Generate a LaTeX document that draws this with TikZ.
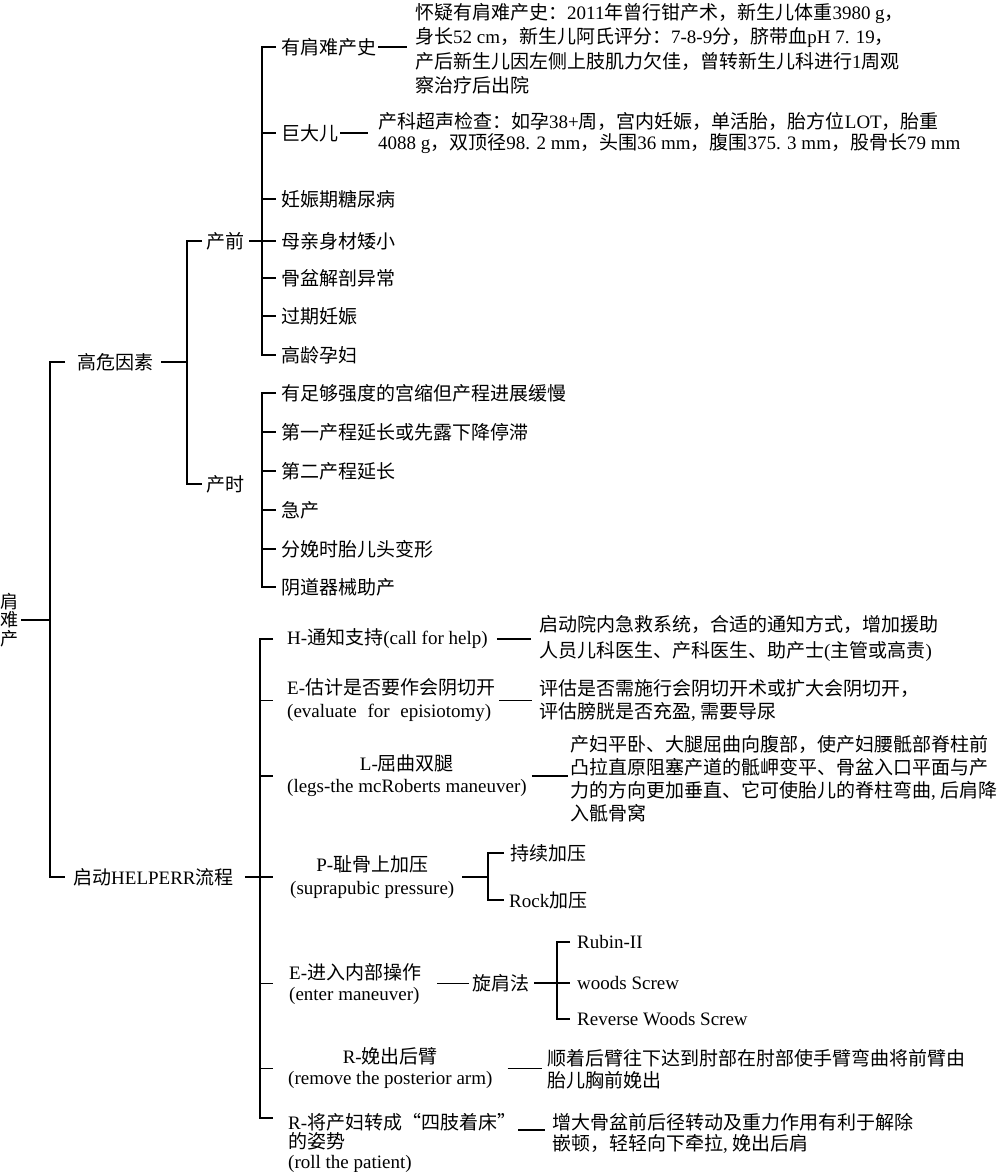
\documentclass[tikz,border=0pt]{standalone}
\usepackage{fontspec}
\setmainfont{Noto Sans CJK SC}
\newfontfamily\lat{Liberation Serif}
\newcommand\la[1]{{\lat #1}}
\begin{document}
\begin{tikzpicture}[x=1pt,y=-1pt,
  every node/.style={inner sep=0pt, anchor=west, font=\fontsize{19}{24}\selectfont},
  ln/.style={line width=1.9pt},
  fs/.style={font=\fontsize{19}{#1}\selectfont}
]
\useasboundingbox (0,0) rectangle (1000,1172);
% bracket x positions
\coordinate (vm) at (50,0);  \coordinate (tm) at (65,0);
\coordinate (v0) at (187,0); \coordinate (t0) at (202,0);
\coordinate (v1) at (262,0); \coordinate (t1) at (276,0);
\coordinate (vh) at (260,0); \coordinate (th) at (273,0);
\coordinate (vp) at (488,0); \coordinate (tp) at (504,0);
\coordinate (vx) at (557,0); \coordinate (tx) at (570,0);

% root
\node[anchor=center, align=center, font=\fontsize{18}{18.5}\selectfont] (root) at (9,620) {肩\\难\\产};
\node (gw) at (77,362) {高危因素};
\node (hp) at (73,877) {启动\la{HELPERR}流程};
\node (cq) at (206,241) {产前};
\node (cs) at (206,484) {产时};

% 产前 items
\node (a1) at (281,47) {有肩难产史};
\node (a2) at (281,133) {巨大儿};
\node (a3) at (281,199) {妊娠期糖尿病};
\node (a4) at (281,241) {母亲身材矮小};
\node (a5) at (281,278) {骨盆解剖异常};
\node (a6) at (281,316) {过期妊娠};
\node (a7) at (281,355) {高龄孕妇};
\node (a1d) [align=left, fs=24.5] at (415,48.5) {怀疑有肩难产史：\la{2011}年曾行钳产术，新生儿体重\la{3980 g}，\\身长\la{52 cm}，新生儿阿氏评分：\la{7-8-9}分，脐带血\la{pH 7. 19}，\\产后新生儿因左侧上肢肌力欠佳，曾转新生儿科进行\la{1}周观\\察治疗后出院};
\node (a2d) [align=left, fs=21] at (378,133) {产科超声检查：如孕\la{38+}周，宫内妊娠，单活胎，胎方位\la{LOT}，胎重\\\la{4088 g}，双顶径\la{98. 2 mm}，头围\la{36 mm}，腹围\la{375. 3 mm}，股骨长\la{79 mm}};

% 产时 items
\node (b1) at (281,393) {有足够强度的宫缩但产程进展缓慢};
\node (b2) at (281,432) {第一产程延长或先露下降停滞};
\node (b3) at (281,471) {第二产程延长};
\node (b4) at (281,510) {急产};
\node (b5) at (281,549) {分娩时胎儿头变形};
\node (b6) at (281,587) {阴道器械助产};

% HELPERR items
\node (h1) at (287,639) {\la{H-}通知支持\la{(call for help)}};
\node (h1d) [align=left, fs=26] at (539,638.5) {启动院内急救系统，合适的通知方式，增加援助\\人员儿科医生、产科医生、助产士\la{(}主管或高责\la{)}};
\node (e1) [align=left, fs=23] at (287,700.5) {\la{E-}估计是否要作会阴切开\\{\lat (evaluate\hspace{6pt} for\hspace{6pt} episiotomy)}};
\node (e1d) [align=left, fs=23] at (539,700.5) {评估是否需施行会阴切开术或扩大会阴切开，\\评估膀胱是否充盈\la{,} 需要导尿};
\node (l1) [align=center, fs=22] at (287,776) {\la{L-}屈曲双腿\\\la{(legs-the mcRoberts maneuver)}};
\node (l1d) [align=left, fs=23] at (570,779) {产妇平卧、大腿屈曲向腹部，使产妇腰骶部脊柱前\\凸拉直原阻塞产道的骶岬变平、骨盆入口平面与产\\力的方向更加垂直、它可使胎儿的脊柱弯曲\la{,} 后肩降\\入骶骨窝};
\node (p1) [align=center, fs=23] at (290,877) {\la{P-}耻骨上加压\\\la{(suprapubic pressure)}};
\node (pa1) at (510,853) {持续加压};
\node (pa2) at (509,900) {\la{Rock}加压};
\node (en) [align=left, fs=21] at (289,983.5) {\la{E-}进入内部操作\\\la{(enter maneuver)}};
\node (xf) at (472,983) {旋肩法};
\node (w1) at (577,942) {\la{Rubin-II}};
\node (w2) at (577,983) {\la{woods Screw}};
\node (w3) at (577,1019) {\la{Reverse Woods Screw}};
\node (r1) [align=center, fs=21] at (288,1068.5) {\la{R-}娩出后臂\\\la{(remove the posterior arm)}};
\node (r1d) [align=left, fs=22] at (547,1069) {顺着后臂往下达到肘部在肘部使手臂弯曲将前臂由\\胎儿胸前娩出};
\node (r2) [align=left, fs=19.5] at (288,1142.5) {\la{R-}将产妇转成“四肢着床”\\的姿势\\\la{(roll the patient)}};
\node (r2d) [align=left, fs=21] at (552,1133.5) {增大骨盆前后径转动及重力作用有利于解除\\嵌顿，轻轻向下牵拉\la{,} 娩出后肩};
\coordinate (r2t) at ([yshift=-5pt]r2.north west);

% connectors: root and main bracket
\draw[ln] ([xshift=3pt]root.east) -- (vm |- root.east);
\draw[ln] (tm |- gw.west) -- (vm |- gw.west) -- (vm |- hp.west) -- (tm |- hp.west);
% 高危因素
\draw[ln] ([xshift=8pt]gw.east) -- (v0 |- gw.east);
\draw[ln] (t0 |- cq.west) -- (v0 |- cq.west) -- (v0 |- cs.west) -- (t0 |- cs.west);
% 产前
\draw[ln] ([xshift=5pt]cq.east) -- (t1 |- cq.east);
\draw[ln] (t1 |- a1.west) -- (v1 |- a1.west) -- (v1 |- a7.west) -- (t1 |- a7.west);
\foreach \n in {a2,a3,a5,a6} \draw[ln] (v1 |- \n.west) -- (t1 |- \n.west);
\draw[ln] ([xshift=2pt]a1.east) -- ([xshift=-8pt]a1d.west |- a1.east);
\draw[ln] ([xshift=2pt]a2.east) -- ([xshift=-10pt]a2d.west |- a2.east);
% 产时
\draw[ln] (t1 |- b1.west) -- (v1 |- b1.west) -- (v1 |- b6.west) -- (t1 |- b6.west);
\foreach \n in {b2,b3,b4,b5} \draw[ln] (v1 |- \n.west) -- (t1 |- \n.west);
% HELPERR
\draw[ln] ([xshift=11pt]hp.east) -- (th |- hp.east);
\draw[ln] (th |- h1.west) -- (vh |- h1.west) -- (vh |- r2t) -- (th |- r2t);
\foreach \n in {e1,l1,en,r1} \draw[ln] (vh |- \n.west) -- (th |- \n.west);
\draw[ln] ([xshift=9pt]h1.east) -- ([xshift=-8pt]h1d.west |- h1.east);
\draw[ln] ([xshift=4pt]e1.east) -- ([xshift=-7pt]e1d.west |- e1.east);
\draw[ln] ([xshift=5pt]l1.east) -- ([xshift=-2pt]l1d.west |- l1.east);
% P
\draw[ln] ([xshift=8pt]p1.east) -- (vp |- p1.east);
\draw[ln] (tp |- pa1.west) -- (vp |- pa1.west) -- (vp |- pa2.west) -- (tp |- pa2.west);
% E enter
\draw[ln] ([xshift=16pt]en.east) -- ([xshift=-3pt]xf.west |- en.east);
\draw[ln] ([xshift=5pt]xf.east) -- (tx |- xf.east);
\draw[ln] (tx |- w1.west) -- (vx |- w1.west) -- (vx |- w3.west) -- (tx |- w3.west);
% R
\draw[ln] ([xshift=15pt]r1.east) -- ([xshift=-5pt]r1d.west |- r1.east);
\draw[ln] ([xshift=2pt]r2.east |- 0,1130) -- ([xshift=-7pt]r2d.west |- 0,1130);
\end{tikzpicture}
\end{document}
